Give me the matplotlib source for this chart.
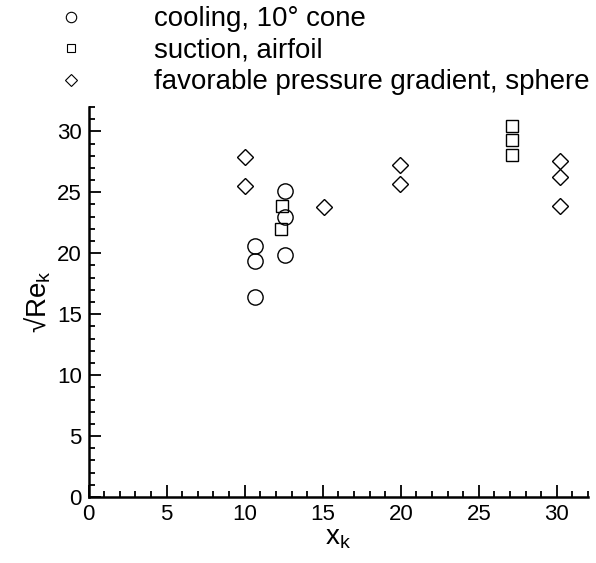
import matplotlib
matplotlib.use('Agg')
import matplotlib.pyplot as plt
from matplotlib.lines import Line2D
from matplotlib.ticker import MultipleLocator

plt.rcParams['font.family'] = ['Liberation Sans', 'DejaVu Sans']
plt.rcParams['mathtext.fontset'] = 'custom'
plt.rcParams['mathtext.rm'] = 'Liberation Sans'
plt.rcParams['mathtext.it'] = 'Liberation Sans'

# cooling, 10 deg cone
cool_x = [10.65, 10.65, 10.65, 12.55, 12.6, 12.55]
cool_y = [16.45, 19.4, 20.6, 25.1, 23.0, 19.85]
# suction, airfoil
suct_x = [12.4, 12.3, 27.1, 27.1, 27.1]
suct_y = [23.85, 21.95, 30.45, 29.25, 28.05]
# favorable pressure gradient, sphere
fav_x = [10.05, 10.05, 15.1, 19.95, 19.95, 30.2, 30.2, 30.2]
fav_y = [27.9, 25.5, 23.8, 27.2, 25.65, 27.6, 26.25, 23.9]

labels = ['cooling, 10\u00b0 cone', 'suction, airfoil',
          'favorable pressure gradient, sphere']


def main():
    fig = plt.figure(figsize=(5.96, 5.63), dpi=100)
    ax = fig.add_axes([0.1487, 0.1172, 0.838, 0.6928])

    ax.plot(cool_x, cool_y, 'o', ms=11, mfc='none', mec='black', mew=1.0)
    ax.plot(suct_x, suct_y, 's', ms=8, mfc='none', mec='black', mew=1.0)
    ax.plot(fav_x, fav_y, 'D', ms=8, mfc='none', mec='black', mew=1.0)

    ax.set_xlim(0, 32)
    ax.set_ylim(0, 32)
    ax.xaxis.set_major_locator(MultipleLocator(5))
    ax.xaxis.set_minor_locator(MultipleLocator(1))
    ax.yaxis.set_major_locator(MultipleLocator(5))
    ax.yaxis.set_minor_locator(MultipleLocator(1))
    ax.tick_params(which='both', direction='in', width=1.3, labelsize=16, pad=5)
    ax.tick_params(which='major', length=8.5)
    ax.tick_params(which='minor', length=4.5)
    for s in ['top', 'right']:
        ax.spines[s].set_visible(False)
    for s in ['left', 'bottom']:
        ax.spines[s].set_linewidth(1.8)

    ax.set_xlabel(r'x$_\mathregular{k}$', fontsize=20, labelpad=0)
    ax.set_ylabel('\u221aRe$_\\mathregular{k}$', fontsize=20, labelpad=3)

    handles = [
        Line2D([], [], ls='none', marker='o', ms=7.5, mfc='none', mec='black', mew=0.8),
        Line2D([], [], ls='none', marker='s', ms=5.5, mfc='none', mec='black', mew=0.8),
        Line2D([], [], ls='none', marker='D', ms=6.3, mfc='none', mec='black', mew=0.8),
    ]
    fig.legend(handles, labels, loc='upper left', bbox_to_anchor=(0.054, 1.033),
               frameon=False, fontsize=19.9, handlelength=1, handletextpad=2.5,
               labelspacing=0.2)

    plt.savefig('out.png', dpi=100)


if __name__ == '__main__':
    main()
